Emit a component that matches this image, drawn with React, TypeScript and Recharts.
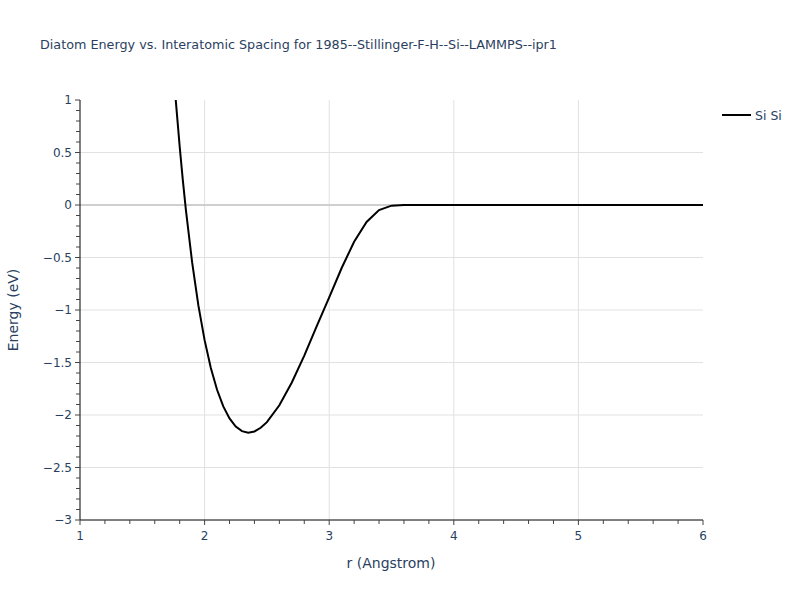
import React from 'react';
import { LineChart, Line, XAxis, YAxis, ReferenceLine, Label } from 'recharts';

const seriesName = 'Si Si';
const rValues = [1.75, 1.77, 1.8, 1.825, 1.85, 1.9, 1.95, 2.0, 2.05, 2.1, 2.15, 2.2, 2.25, 2.3, 2.35, 2.4, 2.45, 2.5, 2.6, 2.7, 2.8, 2.9, 3.0, 3.1, 3.2, 3.3, 3.4, 3.5, 3.6, 3.7, 3.8, 4.0, 4.5, 5.0, 5.5, 6.0];
const energyValues = [1.286, 0.978, 0.557, 0.240, -0.048, -0.547, -0.956, -1.287, -1.552, -1.760, -1.918, -2.033, -2.110, -2.154, -2.168, -2.157, -2.122, -2.068, -1.907, -1.690, -1.434, -1.154, -0.880, -0.600, -0.350, -0.162, -0.049, -0.006, 0.0, 0.0, 0.0, 0.0, 0.0, 0.0, 0.0, 0.0];

const xMajorTicks = [1, 2, 3, 4, 5, 6];
const xMinorTicks = [1.2, 1.4, 1.6, 1.8, 2.2, 2.4, 2.6, 2.8, 3.2, 3.4, 3.6, 3.8, 4.2, 4.4, 4.6, 4.8, 5.2, 5.4, 5.6, 5.8];
const yMajorTicks = [-3, -2.5, -2, -1.5, -1, -0.5, 0, 0.5, 1];
const yMinorTicks = [-2.9, -2.8, -2.7, -2.6, -2.4, -2.3, -2.2, -2.1, -1.9, -1.8, -1.7, -1.6, -1.4, -1.3, -1.2, -1.1, -0.9, -0.8, -0.7, -0.6, -0.4, -0.3, -0.2, -0.1, 0.1, 0.2, 0.3, 0.4, 0.6, 0.7, 0.8, 0.9];
const xGridLines = [2, 3, 4, 5];
const yGridLines = [-2.5, -2, -1.5, -1, -0.5, 0.5];

const data = rValues.map((r, i) => ({ r, e: energyValues[i] }));

const TEXT = '#2a3f5f';
const FONT = '"DejaVu Sans", Verdana, sans-serif';

const fmt = (v: number) => String(v).replace('-', '\u2212');

const XTick = (props: any) => {
  const { x, y, payload } = props;
  const major = xMajorTicks.includes(payload.value);
  return (
    <g>
      <line x1={x} x2={x} y1={y} y2={y + (major ? 5 : 4)} stroke="#444" strokeWidth={1} />
      {major && (
        <text x={x} y={y + 20} textAnchor="middle" fill={TEXT} fontSize={12} fontFamily={FONT}>
          {fmt(payload.value)}
        </text>
      )}
    </g>
  );
};

const YTick = (props: any) => {
  const { x, y, payload } = props;
  const major = yMajorTicks.includes(payload.value);
  return (
    <g>
      <line x1={x} x2={x - (major ? 5 : 4)} y1={y} y2={y} stroke="#444" strokeWidth={1} />
      {major && (
        <text x={x - 8} y={y + 4} textAnchor="end" fill={TEXT} fontSize={12} fontFamily={FONT}>
          {fmt(payload.value)}
        </text>
      )}
    </g>
  );
};

export default function App() {
  return (
    <div style={{ position: 'absolute', left: 0, top: 0, width: 800, height: 600, background: '#fff' }}>
      <div style={{ position: 'absolute', left: 40, top: 37, fontFamily: FONT, fontSize: 12.75, color: TEXT, whiteSpace: 'nowrap' }}>
        Diatom Energy vs. Interatomic Spacing for 1985--Stillinger-F-H--Si--LAMMPS--ipr1
      </div>
      <div style={{ position: 'absolute', left: 716, top: 103 }}>
        <svg width={84} height={24}>
          <line x1={6} x2={35} y1={12} y2={12} stroke="#000" strokeWidth={2} />
          <text x={39} y={16.5} fill={TEXT} fontSize={12.5} fontFamily={FONT}>{seriesName}</text>
        </svg>
      </div>
      <LineChart width={800} height={600} data={data} margin={{ top: 100, right: 97, left: 0, bottom: 0 }}>
        {xGridLines.map((v) => (
          <ReferenceLine key={'gx' + v} x={v} stroke="#e1e1e1" strokeWidth={1} />
        ))}
        {yGridLines.map((v) => (
          <ReferenceLine key={'gy' + v} y={v} stroke="#e1e1e1" strokeWidth={1} />
        ))}
        <ReferenceLine y={0} stroke="#cfcfcf" strokeWidth={2} />
        <XAxis
          type="number"
          dataKey="r"
          domain={[1, 6]}
          allowDataOverflow
          ticks={[...xMajorTicks, ...xMinorTicks].sort((a, b) => a - b)}
          interval={0}
          height={80}
          tickSize={0}
          tickMargin={0}
          tick={<XTick />}
          axisLine={{ stroke: '#000', strokeWidth: 1 }}
          tickLine={false}
        >
          <Label
            content={() => (
              <text x={391} y={568} textAnchor="middle" fill={TEXT} fontSize={14} fontFamily={FONT}>
                r (Angstrom)
              </text>
            )}
          />
        </XAxis>
        <YAxis
          type="number"
          domain={[-3, 1]}
          allowDataOverflow
          ticks={[...yMajorTicks, ...yMinorTicks].sort((a, b) => a - b)}
          interval={0}
          width={80}
          tickSize={0}
          tickMargin={0}
          tick={<YTick />}
          axisLine={{ stroke: '#000', strokeWidth: 1 }}
          tickLine={false}
        >
          <Label
            content={() => (
              <text x={18} y={310} transform="rotate(-90 18 310)" textAnchor="middle" fill={TEXT} fontSize={14} fontFamily={FONT}>
                Energy (eV)
              </text>
            )}
          />
        </YAxis>
        <Line
          type="linear"
          dataKey="e"
          name={seriesName}
          stroke="#000"
          strokeWidth={2}
          dot={false}
          isAnimationActive={false}
        />
      </LineChart>
    </div>
  );
}
